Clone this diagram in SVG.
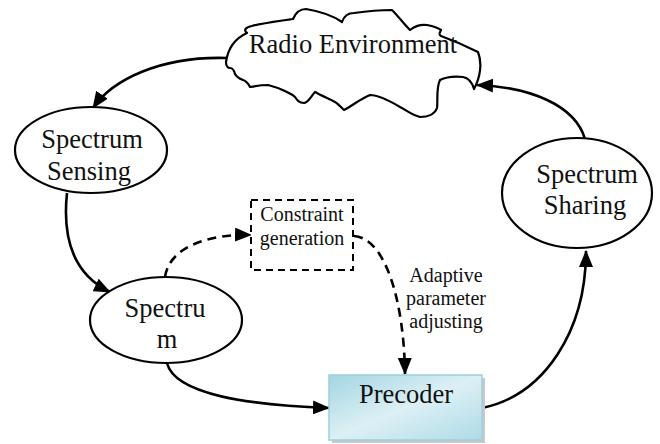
<svg xmlns="http://www.w3.org/2000/svg" width="660" height="444" viewBox="0 0 660 444">
<style>
.node{fill:#fff;stroke:#000;stroke-width:2.2}
.lbl{font-family:'Liberation Serif','Times New Roman',Times,'DejaVu Serif',serif;font-size:26.5px;fill:#111;text-anchor:middle}
.sm{font-family:'Liberation Serif','Times New Roman',Times,'DejaVu Serif',serif;font-size:20px;fill:#111;text-anchor:middle}
.conn{fill:none;stroke:#000;stroke-width:2.6}
.dash{stroke-dasharray:9 6}
</style>
<defs>
<marker id="ah" markerUnits="userSpaceOnUse" markerWidth="17" markerHeight="14" refX="16" refY="7" orient="auto" viewBox="0 0 17 14">
<path d="M0,0 L17,7 L0,14 z" fill="#000"/>
</marker>
<linearGradient id="pg" x1="0" y1="0" x2="1" y2="1">
<stop offset="0" stop-color="#a3d5e2"/>
<stop offset="0.5" stop-color="#dcf0f5"/>
<stop offset="1" stop-color="#aedbe6"/>
</linearGradient>
</defs>
<g id="connectors">
<path class="conn" d="M227,58 C160,56 112,80 93,108" marker-end="url(#ah)"/>
<path class="conn" d="M67,193 C62,240 75,275 110,292" marker-end="url(#ah)"/>
<path class="conn" d="M167,363 C175,395 250,405 329,408" marker-end="url(#ah)"/>
<path class="conn" d="M482,408 C545,395 586,330 586,251" marker-end="url(#ah)"/>
<path class="conn" d="M585,139 C575,105 530,87 477,85" marker-end="url(#ah)"/>
<path class="conn dash" d="M165,277 C170,245 212,234 251,235" marker-end="url(#ah)"/>
<path class="conn dash" d="M354,236 C385,238 404,300 405,374" marker-end="url(#ah)"/>
</g>
<g id="radio-environment">
<path fill="#fff" stroke="#000" stroke-width="2.2" stroke-linejoin="round" d="M226,62 C228,48 236,38 247,33 C243,30 246,27 252,26 C262,23 280,21 293,19 C296,12 300,9 306,9 C318,11 332,15 342,22 C344,16 348,13 354,13 C368,11 382,10 392,10 C398,16 404,24 410,30 C415,26 420,24 427,25 C432,26 437,27 441,30 C440,33 438,34 441,36 C452,40 466,46 478,52 C482,62 481,76 474,89 C472,82 469,78 463,77 C454,76 446,77 440,80 C436,88 438,100 437,108 C435,114 428,117 420,117 C412,115 406,110 400,107 C390,101 378,95 370,95 C360,99 352,106 344,110 C340,106 337,103 335,102 C330,99 322,96 315,92 C311,96 309,102 304,103 C299,103 297,100 295,97 C292,94 280,88 268,85 C258,85 252,87 250,87 C248,83 246,81 243,80 C238,78 236,76 235,74 C234,70 233,68 230,68 C228,68 226,66 226,62 Z"/>
<text class="lbl" x="353" y="53" font-family="Liberation Serif">Radio Environment</text>
</g>
<g id="spectrum-sensing">
<ellipse class="node" cx="91" cy="150" rx="76" ry="43"/>
<text class="lbl" x="92" y="148" font-family="Liberation Serif">Spectrum</text>
<text class="lbl" x="89" y="180" font-family="Liberation Serif">Sensing</text>
</g>
<g id="spectrum">
<ellipse class="node" cx="166" cy="320" rx="76" ry="43"/>
<text class="lbl" x="165" y="317" font-family="Liberation Serif">Spectru</text>
<text class="lbl" x="167" y="348" font-family="Liberation Serif">m</text>
</g>
<g id="spectrum-sharing">
<ellipse class="node" cx="577" cy="193" rx="75" ry="55"/>
<text class="lbl" x="587" y="183" font-family="Liberation Serif">Spectrum</text>
<text class="lbl" x="585" y="214" font-family="Liberation Serif">Sharing</text>
</g>
<g id="constraint-generation">
<rect x="251" y="200" width="102" height="70" fill="#fff" stroke="#000" stroke-width="2" stroke-dasharray="7 5"/>
<text class="sm" x="302" y="221" font-family="Liberation Serif">Constraint</text>
<text class="sm" x="302" y="245" font-family="Liberation Serif">generation</text>
</g>
<g id="adaptive-label">
<text class="sm" x="446" y="282" font-family="Liberation Serif">Adaptive</text>
<text class="sm" x="446" y="305" font-family="Liberation Serif">parameter</text>
<text class="sm" x="446" y="328" font-family="Liberation Serif">adjusting</text>
</g>
<g id="precoder">
<rect x="332" y="378" width="153" height="65" fill="#c9c9c9"/>
<rect x="329" y="375" width="153" height="65" fill="url(#pg)" stroke="#9ccfdc" stroke-width="1.5"/>
<text class="lbl" x="406" y="403" font-family="Liberation Serif">Precoder</text>
</g>
</svg>
